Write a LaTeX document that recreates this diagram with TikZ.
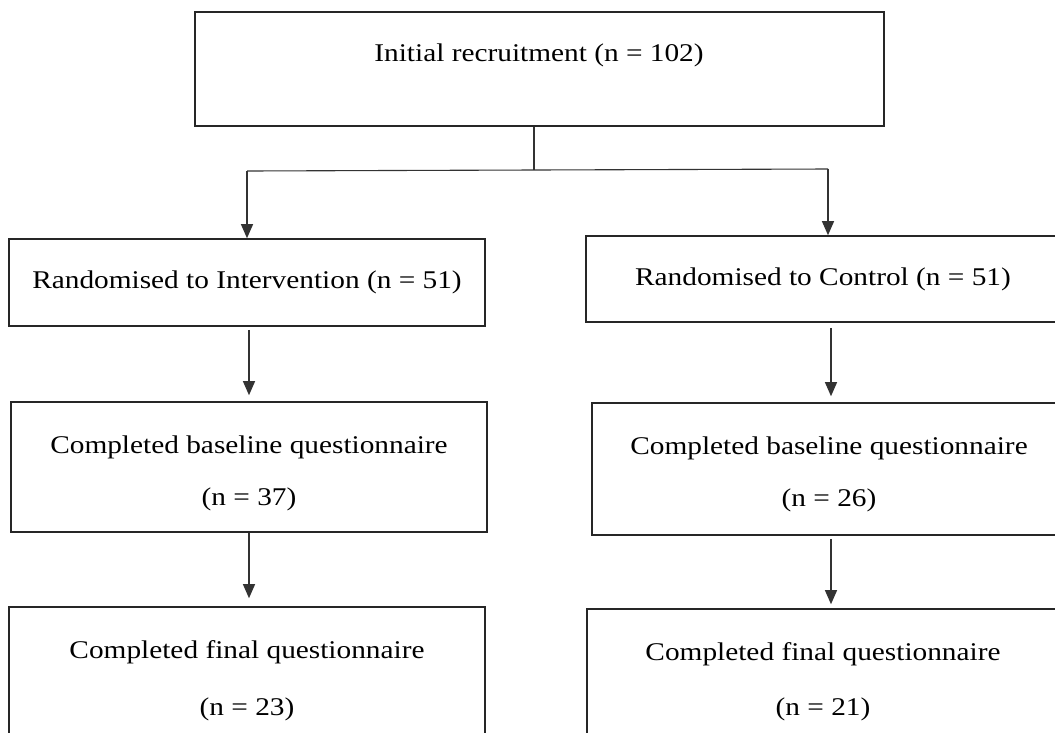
\documentclass[tikz,border=0pt]{standalone}
\usepackage{fontspec}
\setmainfont{Liberation Serif}[FakeStretch=1.15]
\usetikzlibrary{arrows.meta}
\begin{document}
\begin{tikzpicture}[x=1pt,y=-1pt,
  box/.style={draw=black!85, line width=1.6pt, rectangle, inner sep=0pt},
  conn/.style={draw=black!80, line width=1.1pt},
  arr/.style={conn, -{Triangle[width=12pt,length=14pt]}},
  lbl/.style={font=\fontsize{25.5}{30}\selectfont, inner sep=0pt, anchor=center}
]
\useasboundingbox (0,0) rectangle (1055,732);
% boxes
\node[box, minimum width=689pt, minimum height=114pt] (top) at (539.5,69) {};
\node[box, minimum width=476pt, minimum height=87pt] (i1) at (247,282.5) {};
\node[box, minimum width=476pt, minimum height=86pt] (c1) at (824,279) {};
\node[box, minimum width=476pt, minimum height=130pt] (i2) at (249,467) {};
\node[box, minimum width=478pt, minimum height=132pt] (c2) at (831,469) {};
\node[box, minimum width=476pt, minimum height=160pt] (i3) at (247,687) {};
\node[box, minimum width=478pt, minimum height=160pt] (c3) at (826,689) {};
% texts
\node[lbl] (ttop) at (539,55) {Initial recruitment (n = 102)};
\node[lbl] (ti1) at (247,282) {Randomised to Intervention (n = 51)};
\node[lbl] (tc1) at (823,279) {Randomised to Control (n = 51)};
\node[lbl] (ti2a) at (249,447) {Completed baseline questionnaire};
\node[lbl] (ti2b) at (249,499) {(n = 37)};
\node[lbl] (tc2a) at (829,448) {Completed baseline questionnaire};
\node[lbl] (tc2b) at (829,500) {(n = 26)};
\node[lbl] (ti3a) at (247,652) {Completed final questionnaire};
\node[lbl] (ti3b) at (247,709) {(n = 23)};
\node[lbl] (tc3a) at (823,654) {Completed final questionnaire};
\node[lbl] (tc3b) at (823,709) {(n = 21)};
% connectors
\coordinate (split) at (534,170);
\coordinate (sl) at (247,171);
\coordinate (sr) at (828,169);
\draw[conn] (top.south -| split) -- (split);
\draw[conn] (sl) -- (split) -- (sr);
\draw[arr] (sl) -- (sl |- i1.north);
\draw[arr] (sr) -- (sr |- c1.north);
\draw[arr, shorten <=3pt, shorten >=6pt] (i1.south -| 249,0) -- (i2.north -| 249,0);
\draw[arr, shorten <=5pt, shorten >=6pt] (c1.south -| 831,0) -- (c2.north -| 831,0);
\draw[arr, shorten >=8pt] (i2.south -| 249,0) -- (i3.north -| 249,0);
\draw[arr, shorten <=3pt, shorten >=4pt] (c2.south -| 831,0) -- (c3.north -| 831,0);
\end{tikzpicture}
\end{document}
